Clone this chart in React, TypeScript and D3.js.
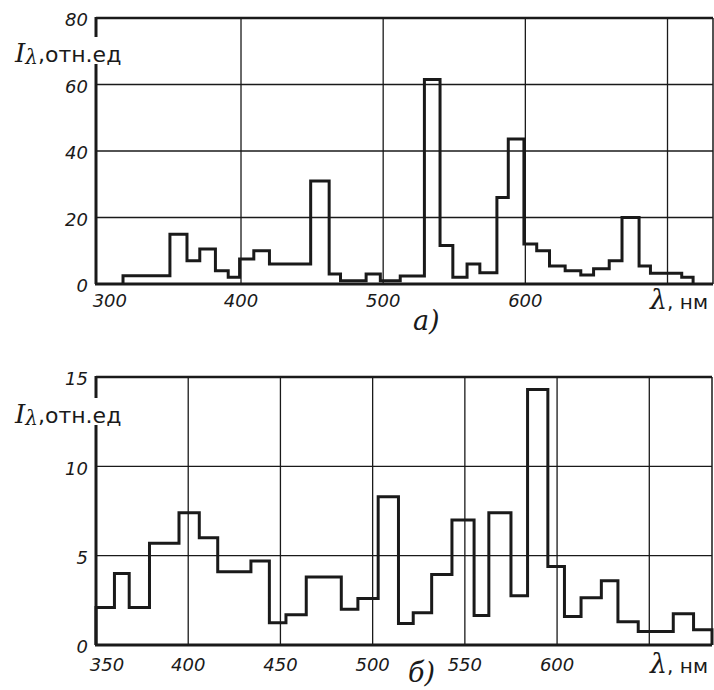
import React, { useEffect, useRef } from "react";
import * as d3 from "d3";

// panel a) : bin edges (nm) and relative intensity of each bin
const edgesA = [317, 350, 362, 371, 382, 391, 399, 409, 420, 449, 462, 470, 488, 498, 512, 529, 540, 549, 559, 568, 580, 588, 599, 608, 617, 628, 639, 648, 659, 668, 680, 688, 710, 718];
const valuesA = [2.5, 15, 7, 10.5, 4, 2, 7.5, 10, 6, 31, 3, 1, 3, 1, 2.4, 61.5, 11.6, 2, 6, 3.4, 26, 43.6, 12, 10, 5.4, 4, 2.7, 4.6, 7, 20, 5.4, 3.2, 2];
const xTicksA = [300, 400, 500, 600];
const xGridA = [400, 500, 600, 700];
const yTicksA = [0, 20, 40, 60, 80];

// panel б)
const edgesB = [350, 360, 368, 379, 395, 406, 416, 434, 444, 453, 464, 483, 492, 503, 514, 522, 532, 543, 555, 563, 575, 584, 595, 604, 613, 624, 633, 644, 663, 674, 684];
const valuesB = [2.1, 4, 2.1, 5.7, 7.4, 6, 4.1, 4.7, 1.25, 1.7, 3.8, 2, 2.6, 8.3, 1.2, 1.8, 3.95, 7, 1.65, 7.4, 2.75, 14.3, 4.4, 1.6, 2.65, 3.6, 1.3, 0.75, 1.75, 0.85];
const xTicksB = [350, 400, 450, 500, 550, 600];
const xGridB = [400, 450, 500, 550, 600, 650];
const yTicksB = [0, 5, 10, 15];

const INK = "#1a1a1a";

function drawPanel(svg: any, p: any) {
  var x = d3.scaleLinear().domain(p.xDomain).range([p.left, p.right]);
  var y = d3.scaleLinear().domain([0, p.yMax]).range([p.bottom, p.top]);
  var g = svg.append("g");

  // grid
  g.selectAll(".hg")
    .data(p.yTicks.filter((v: number) => v > 0 && v < p.yMax))
    .enter().append("line")
    .attr("x1", p.left).attr("x2", p.right)
    .attr("y1", (d: number) => y(d)).attr("y2", (d: number) => y(d))
    .attr("stroke", INK).attr("stroke-width", 1.3);
  g.selectAll(".vg")
    .data(p.xGrid)
    .enter().append("line")
    .attr("x1", (d: number) => x(d)).attr("x2", (d: number) => x(d))
    .attr("y1", p.top).attr("y2", p.bottom)
    .attr("stroke", INK).attr("stroke-width", 1.3);

  // frame
  g.append("line").attr("x1", p.left).attr("x2", p.right).attr("y1", y(p.yMax)).attr("y2", y(p.yMax))
    .attr("stroke", INK).attr("stroke-width", 2.5);
  g.append("line").attr("x1", p.right).attr("x2", p.right).attr("y1", p.top).attr("y2", p.bottom)
    .attr("stroke", INK).attr("stroke-width", 1.5);
  g.append("line").attr("x1", p.left - 1).attr("x2", p.right).attr("y1", p.bottom).attr("y2", p.bottom)
    .attr("stroke", INK).attr("stroke-width", 3);
  g.append("line").attr("x1", p.left).attr("x2", p.left).attr("y1", p.top - 1).attr("y2", p.bottom)
    .attr("stroke", INK).attr("stroke-width", 3);

  // step histogram
  var pts: [number, number][] = [[p.edges[0], 0]];
  p.values.forEach((v: number, i: number) => {
    pts.push([p.edges[i], v]);
    pts.push([p.edges[i + 1], v]);
  });
  pts.push([p.edges[p.edges.length - 1], 0]);
  var line = d3.line<[number, number]>().x(d => x(d[0])).y(d => y(d[1]));
  g.append("path").attr("d", line(pts)).attr("fill", "none")
    .attr("stroke", INK).attr("stroke-width", 3).attr("stroke-linejoin", "miter");

  // tick labels
  g.selectAll(".yl")
    .data(p.yTicks)
    .enter().append("text")
    .attr("x", p.left - 8)
    .attr("y", (d: number) => y(d) + 2)
    .attr("dy", "0.36em")
    .attr("text-anchor", "end")
    .style("font-family", "'DejaVu Sans', sans-serif")
    .style("font-style", "italic")
    .style("font-size", "18px")
    .attr("fill", INK)
    .text((d: number) => d);
  g.selectAll(".xl")
    .data(p.xTicks)
    .enter().append("text")
    .attr("x", (d: number, i: number) => x(d) + (i === 0 ? 11 : 0))
    .attr("y", p.xLabelY)
    .attr("text-anchor", "middle")
    .style("font-family", "'DejaVu Sans', sans-serif")
    .style("font-style", "italic")
    .style("font-size", "18px")
    .attr("fill", INK)
    .text((d: number) => d);

  // y-axis title, cuts the left frame
  g.append("rect").attr("x", p.left - 5).attr("y", p.titleY - 25).attr("width", 10).attr("height", 27).attr("fill", "white");
  var t = g.append("text").attr("x", 15).attr("y", p.titleY).attr("fill", INK);
  t.append("tspan").style("font-family", "'DejaVu Serif', serif").style("font-style", "italic").style("font-size", "26px").text("I");
  t.append("tspan").attr("dy", 2).style("font-family", "'DejaVu Serif', serif").style("font-style", "italic").style("font-size", "20px").text("λ");
  t.append("tspan").attr("dy", -2).style("font-family", "'DejaVu Sans', sans-serif").style("font-size", "22px").text(",отн.ед");

  // x-axis title
  var u = g.append("text").attr("x", 708).attr("y", p.xLabelY + 2).attr("text-anchor", "end").attr("fill", INK);
  u.append("tspan").style("font-family", "'DejaVu Serif', serif").style("font-style", "italic").style("font-size", "27px").text("λ");
  u.append("tspan").style("font-family", "'DejaVu Sans', sans-serif").style("font-size", "20px").text(", нм");

  // panel tag
  g.append("text").attr("x", p.tagX).attr("y", p.tagY).attr("fill", INK)
    .style("font-family", "'DejaVu Serif', serif").style("font-style", "italic").style("font-size", "27px")
    .text(p.tag);
}

export default function App() {
  const ref = useRef<SVGSVGElement>(null);

  useEffect(() => {
    var svg = d3.select(ref.current);
    svg.selectAll("*").remove();
    svg.append("rect").attr("width", 714).attr("height", 690).attr("fill", "white");

    drawPanel(svg, {
      edges: edgesA, values: valuesA, xDomain: [298, 732], yMax: 80,
      left: 96, right: 713, top: 18, bottom: 284,
      xTicks: xTicksA, xGrid: xGridA, yTicks: yTicksA,
      xLabelY: 307, titleY: 62, tag: "а)", tagX: 413, tagY: 330,
    });
    drawPanel(svg, {
      edges: edgesB, values: valuesB, xDomain: [350, 684], yMax: 15,
      left: 96, right: 712, top: 377, bottom: 645,
      xTicks: xTicksB, xGrid: xGridB, yTicks: yTicksB,
      xLabelY: 671, titleY: 423, tag: "б)", tagX: 408, tagY: 682,
    });
  }, []);

  return (
    <svg ref={ref} width={714} height={690} style={{ position: "absolute", left: 0, top: 0 }} />
  );
}
